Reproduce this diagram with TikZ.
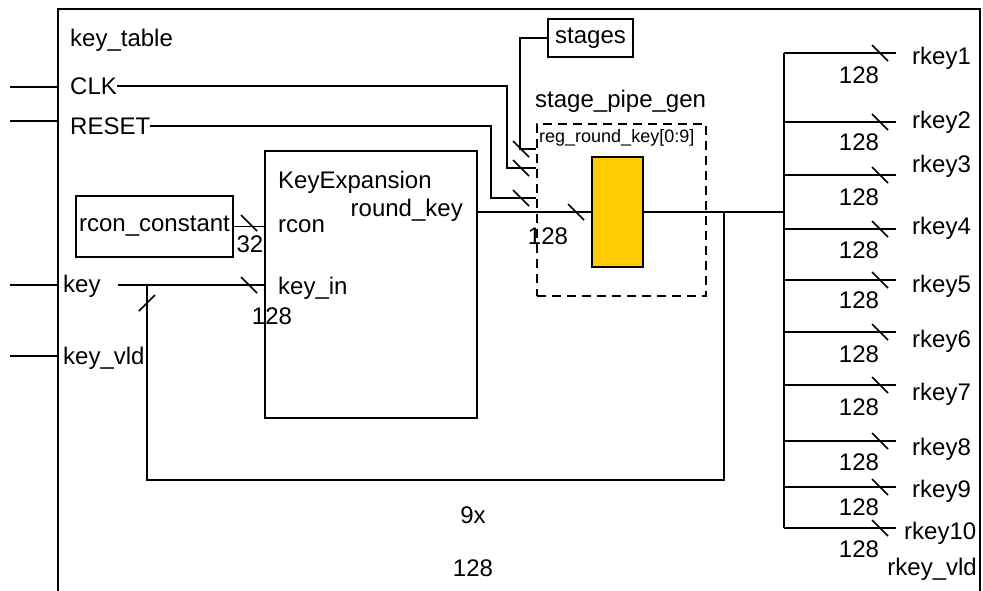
\documentclass[tikz,border=0pt]{standalone}
\usepackage{fontspec}
\setmainfont{Liberation Sans}
\usetikzlibrary{calc, positioning}
\definecolor{regYellow}{HTML}{FFCC00}
\newcommand{\busmark}[1]{\draw[mark line] ($(#1)+(-8,-8)$) -- ($(#1)+(8,8)$);}

\begin{document}
\begin{tikzpicture}[
  x=1pt, y=-1pt,
  font=\fontsize{24}{28}\selectfont,
  wire/.style={line width=1.9pt},
  mark line/.style={line width=1.5pt},
  box/.style={draw, line width=1.9pt, inner sep=0pt},
  lbl/.style={inner sep=0pt, anchor=base west},
  wlbl/.style={inner sep=0pt, anchor=base},
  pipebox/.style={draw, line width=1.9pt, dash pattern=on 9pt off 6pt},
  regbox/.style={box, fill=regYellow}
]
\clip (0,0) rectangle (983,590);

% outer block
\node[box, minimum width=922pt, minimum height=600pt, anchor=north west] (kt) at (57,8) {};
\node[lbl] (ktname) at (70,46) {key\_table};
\node[lbl] (clk) at (70,94) {CLK};
\node[lbl] (rst) at (70,134) {RESET};
\node[lbl] (key) at (63,292) {key};
\node[lbl] (kvld) at (63,364) {key\_vld};

% inner blocks
\node[box, minimum width=157pt, minimum height=61pt] (rcbox) at (154.5,226.5) {rcon\_constant};
\node[box, minimum width=212pt, minimum height=267pt] (kexp) at (371,284.5) {};
\node[lbl] (kexpname) at (278,188) {KeyExpansion};
\node[lbl] (rconin) at (278,232) {rcon};
\node[lbl] (keyin) at (278,294) {key\_in};
\node[inner sep=0pt, anchor=base east] (rkout) at (463,216) {round\_key};

\node[box, minimum width=85pt, minimum height=38pt] (stages) at (590.5,38) {stages};
\node[lbl] (pipename) at (535,107) {stage\_pipe\_gen};
\node[pipebox, minimum width=169pt, minimum height=172pt] (pipe) at (621.5,210) {};
\node[lbl, font=\fontsize{18}{20}\selectfont] (regname) at (539,142) {reg\_round\_key[0:9]};
\node[regbox, minimum width=51pt, minimum height=110pt] (reg) at (617.5,212) {};

% bus widths
\node[wlbl] (w32) at (250,252) {32};
\node[wlbl] (wkey) at (272,324) {128};
\node[wlbl] (wrk) at (548,244) {128};
\node[wlbl] (n9x) at (473,523) {9x};
\node[wlbl] (w128) at (473,576) {128};

% pins
\draw[wire] (10,87) -- (kt.west |- 0,87);
\draw[wire] (10,121) -- (kt.west |- 0,121);
\draw[wire] (10,285) -- (kt.west |- 0,285);
\draw[wire] (10,356) -- (kt.west |- 0,356);

% wires
\draw[wire] (clk.east) -| (507,168) -- (pipe.west |- 0,168);
\draw[wire] (rst.east) -| (491,198) -- (pipe.west |- 0,198);
\draw[wire] (stages.west) -| (520,149) -- (pipe.west |- 0,149);
\draw[wire] (rcbox.east) -- (kexp.west |- rcbox.east);
\coordinate (kstart) at (118,285);
\draw[wire] (kstart) -- (kexp.west |- kstart);
\draw[wire] (kexp.east |- 0,212) -- (reg.west);
\coordinate (tap) at (724,212);
\coordinate (bus) at (784,212);
\draw[wire] (reg.east) -- (bus);
\draw[wire] (tap) -- (724,480) -| (147,285);
\draw[wire] (784,53) -- (784,528);

\busmark{521,149}
\busmark{521,168}
\busmark{521,198}
\busmark{576,212}
\busmark{249,223}
\busmark{249,285}
\draw[mark line] ($(147,303)+(-8,8)$) -- ($(147,303)+(8,-8)$);

% round key outputs
\foreach \i/\by/\lb/\wb/\lx in {1/53/64/83/912, 2/122/128/150/912, 3/175/172/205/912,
    4/229/234/258/912, 5/280/292/308/912, 6/332/347/362/912, 7/385/400/415/912,
    8/441/455/470/912, 9/487/497/515/912, 10/528/539/557/904}{
  \coordinate (br\i) at (784,\by);
  \draw[wire] (br\i) -- ++(112,0) coordinate (out\i);
  \busmark{880,\by}
  \node[wlbl] (w\i) at (859,\wb) {128};
  \node[lbl] (rk\i) at (\lx,\lb) {rkey\i};
}
\node[inner sep=0pt, anchor=base east] (rkvld) at (977,575) {rkey\_vld};
\end{tikzpicture}
\end{document}
